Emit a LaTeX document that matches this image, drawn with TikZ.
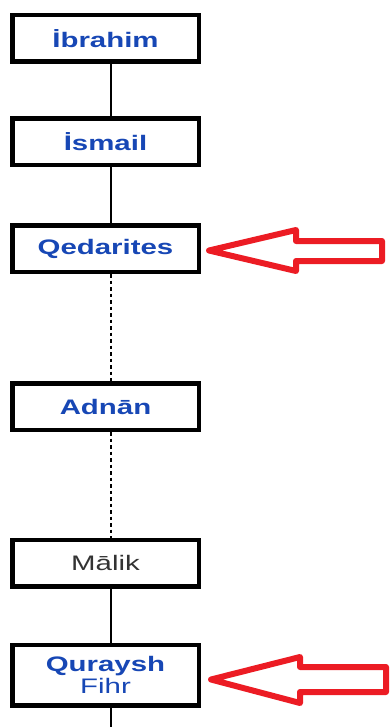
\documentclass[tikz,border=0pt]{standalone}
\usepackage{fontspec}
\setmainfont{Liberation Sans}[FakeStretch=1.4]
\definecolor{linkblue}{HTML}{1747B5}
\definecolor{darktext}{HTML}{333333}
\definecolor{arrowred}{HTML}{EC1C24}
\begin{document}
\begin{tikzpicture}[x=1pt,y=-1pt,
  box/.style={draw=black, line width=4.5pt, fill=white, rectangle,
    minimum width=186.5pt, minimum height=46.5pt, inner sep=0pt,
    align=center, font=\fontsize{21}{22}\selectfont},
  link/.style={text=linkblue, font=\fontsize{21}{22}\selectfont\bfseries},
  solidline/.style={draw=black, line width=1.6pt},
  dotline/.style={draw=black, line width=1.6pt, dash pattern=on 3.5pt off 3pt},
  redarrow/.style={draw=arrowred, line width=6pt, line join=round, fill=white}]
\useasboundingbox (0,0) rectangle (389,727);
\node[box, link] (ibr) at (105.5,38.3) {İbrahim};
\node[box, link] (ism) at (105.5,142) {İsmail};
\node[box, link] (qed) at (105.5,248.5) {Qedarites};
\node[box, link] (adn) at (105.5,406.5) {Adnān};
\node[box, text=darktext] (mal) at (105.5,563) {Mālik};
\node[box, minimum height=60.5pt, text=linkblue] (qur) at (105.5,675)
  {\textbf{Quraysh}\\Fihr};
\coordinate (bottom) at (110.7,727);
\begin{scope}[on background layer/.try]
\end{scope}
\draw[solidline] ([xshift=5.2pt]ibr.south) -- ([xshift=5.2pt]ism.north);
\draw[solidline] ([xshift=5.2pt]ism.south) -- ([xshift=5.2pt]qed.north);
\draw[dotline] ([xshift=5.2pt]qed.south) -- ([xshift=5.2pt]adn.north);
\draw[dotline] ([xshift=5.2pt]adn.south) -- ([xshift=5.2pt]mal.north);
\draw[solidline] ([xshift=5.2pt]mal.south) -- ([xshift=5.2pt]qur.north);
\draw[solidline] ([xshift=5.2pt]qur.south) -- (bottom);
\draw[redarrow] (209,250.5) -- (296,230) -- (296,241) -- (382,241)
  -- (382,261) -- (296,261) -- (296,271) -- cycle;
\draw[redarrow] (211,679.5) -- (300,657) -- (300,667) -- (386,667)
  -- (386,692) -- (300,692) -- (300,703) -- cycle;
\end{tikzpicture}
\end{document}
